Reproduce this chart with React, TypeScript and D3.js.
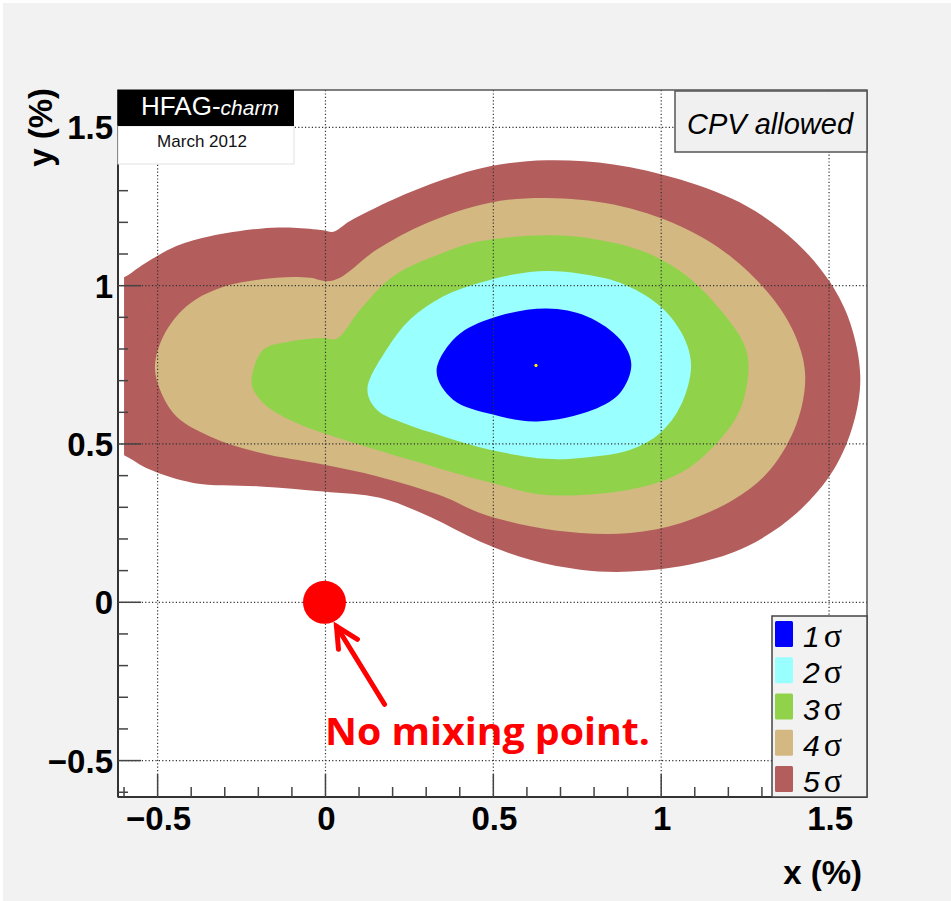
import * as d3 from 'd3';
import React, { useEffect, useRef } from 'react';

// contour outlines, in (x %, y %)
const sigma5: [number, number][] = [
  [-0.7, 1.0], [-0.603, 1.025], [-0.543, 1.067], [-0.444, 1.125], [-0.344, 1.156], [-0.195, 1.18],
  [-0.096, 1.183], [-0.007, 1.175], [0.023, 1.17], [0.073, 1.204], [0.202, 1.272], [0.351, 1.335],
  [0.49, 1.377], [0.659, 1.396], [0.858, 1.383], [1.057, 1.335], [1.255, 1.251], [1.404, 1.135],
  [1.504, 1.009], [1.563, 0.882], [1.593, 0.714], [1.573, 0.566], [1.514, 0.419], [1.404, 0.282],
  [1.255, 0.176], [1.106, 0.124], [0.908, 0.097], [0.759, 0.103], [0.61, 0.134], [0.46, 0.192],
  [0.311, 0.27], [0.162, 0.33], [-0.007, 0.35], [-0.195, 0.366], [-0.394, 0.377], [-0.523, 0.419],
  [-0.603, 0.466], [-0.7, 0.5],
];
const sigma4: [number, number][] = [
  [-0.508, 0.745], [-0.483, 0.84], [-0.414, 0.935], [-0.314, 0.993], [-0.145, 1.025], [-0.046, 1.025],
  [0.004, 1.014], [0.043, 1.025], [0.153, 1.114], [0.302, 1.198], [0.49, 1.262], [0.659, 1.277],
  [0.858, 1.256], [1.057, 1.188], [1.206, 1.093], [1.335, 0.956], [1.404, 0.83], [1.429, 0.714],
  [1.404, 0.566], [1.325, 0.419], [1.215, 0.324], [1.057, 0.25], [0.908, 0.219], [0.759, 0.219],
  [0.61, 0.24], [0.46, 0.282], [0.351, 0.334], [0.153, 0.398], [-0.007, 0.435], [-0.195, 0.472],
  [-0.344, 0.524], [-0.444, 0.587], [-0.493, 0.672],
];
const sigma3: [number, number][] = [
  [-0.22, 0.709], [-0.185, 0.798], [-0.106, 0.824], [-0.007, 0.835], [0.033, 0.832], [0.103, 0.924],
  [0.202, 1.03], [0.351, 1.104], [0.46, 1.14], [0.659, 1.159], [0.808, 1.146], [0.957, 1.104],
  [1.077, 1.03], [1.176, 0.924], [1.245, 0.819], [1.26, 0.745], [1.235, 0.608], [1.156, 0.492],
  [1.057, 0.408], [0.908, 0.356], [0.659, 0.339], [0.49, 0.378], [0.252, 0.45], [0.053, 0.514],
  [-0.086, 0.566], [-0.175, 0.619], [-0.215, 0.672],
];
const sigma2: [number, number][] = [
  [0.125, 0.672], [0.182, 0.798], [0.252, 0.893], [0.35, 0.966], [0.46, 1.009], [0.559, 1.035],
  [0.659, 1.046], [0.759, 1.038], [0.878, 1.009], [0.997, 0.935], [1.066, 0.84], [1.089, 0.745],
  [1.057, 0.619], [0.997, 0.535], [0.908, 0.482], [0.759, 0.456], [0.659, 0.453], [0.49, 0.482],
  [0.351, 0.524], [0.232, 0.566], [0.153, 0.608],
];
const sigma1: [number, number][] = [
  [0.331, 0.729], [0.391, 0.84], [0.499, 0.899], [0.659, 0.928], [0.779, 0.903], [0.878, 0.83],
  [0.911, 0.751], [0.878, 0.662], [0.797, 0.608], [0.63, 0.571], [0.499, 0.593], [0.38, 0.64],
];
const bestFit: [number, number] = [0.627, 0.748];
const noMixing: [number, number] = [0, 0];

const contours = [sigma5, sigma4, sigma3, sigma2, sigma1];
const contourColors = ['#b35e5c', '#d3b882', '#90d34a', '#99ffff', '#0000ff'];
const legendLabels = ['1', '2', '3', '4', '5'];
const legendColors = ['#0000ff', '#99ffff', '#90d34a', '#d3b882', '#b35e5c'];
const majorTicks = [-0.5, 0, 0.5, 1, 1.5];
const tickLabels = ['\u22120.5', '0', '0.5', '1', '1.5'];

function App() {
  const svgRef = useRef<SVGSVGElement>(null);

  useEffect(() => {
    const W = 951, H = 901;
    const left = 118, right = 867, top = 90, bottom = 797;
    const svg = d3.select(svgRef.current).attr('width', W).attr('height', H);
    svg.selectAll('*').remove();

    svg.append('rect').attr('width', W).attr('height', H).attr('fill', '#fff');
    svg.append('rect').attr('x', 3).attr('y', 3).attr('width', W - 3).attr('height', H - 3).attr('fill', '#f2f2f2');

    const x = d3.scaleLinear().domain([-0.618, 1.613]).range([left, right]);
    const y = d3.scaleLinear().domain([-0.615, 1.618]).range([bottom, top]);

    svg.append('rect').attr('x', left).attr('y', top)
      .attr('width', right - left).attr('height', bottom - top).attr('fill', '#fff');

    // histogram range clip
    svg.append('clipPath').attr('id', 'hist')
      .append('rect')
      .attr('x', x(-0.6)).attr('y', y(1.6))
      .attr('width', x(1.6) - x(-0.6)).attr('height', y(-0.6) - y(1.6));

    const line = d3.line<[number, number]>()
      .x(d => x(d[0]))
      .y(d => y(d[1]))
      .curve(d3.curveCatmullRomClosed.alpha(0.5));

    const g = svg.append('g').attr('clip-path', 'url(#hist)');
    contours.forEach((c, i) => {
      g.append('path').attr('d', line(c)).attr('fill', contourColors[i]);
    });
    g.append('circle').attr('cx', x(bestFit[0])).attr('cy', y(bestFit[1])).attr('r', 1.6).attr('fill', '#ffee00');

    // dotted grid on top
    const grid = svg.append('g').attr('stroke', '#333').attr('stroke-width', 1.2).attr('stroke-dasharray', '1.2 2.2');
    majorTicks.forEach(t => {
      grid.append('line').attr('x1', x(t)).attr('x2', x(t)).attr('y1', top).attr('y2', bottom);
      grid.append('line').attr('x1', left).attr('x2', right).attr('y1', y(t)).attr('y2', y(t));
    });

    // frame
    svg.append('rect').attr('x', left).attr('y', top)
      .attr('width', right - left).attr('height', bottom - top)
      .attr('fill', 'none').attr('stroke', '#555').attr('stroke-width', 1.5);
    svg.append('line').attr('x1', left).attr('x2', right).attr('y1', bottom).attr('y2', bottom).attr('stroke', '#333').attr('stroke-width', 2);
    svg.append('line').attr('x1', left).attr('x2', left).attr('y1', top).attr('y2', bottom).attr('stroke', '#333').attr('stroke-width', 2);

    // ticks
    const ticks = svg.append('g').attr('stroke', '#444').attr('stroke-width', 1.5);
    d3.range(-6, 17).forEach(k => {
      const v = k / 10;
      const major = k % 5 === 0;
      const len = major ? 23 : 10;
      ticks.append('line').attr('x1', x(v)).attr('x2', x(v)).attr('y1', bottom).attr('y2', bottom - len);
      ticks.append('line').attr('x1', left).attr('x2', left + len).attr('y1', y(v)).attr('y2', y(v));
    });

    const font = '"Liberation Sans", Arial, sans-serif';
    majorTicks.forEach((t, i) => {
      svg.append('text').attr('x', x(t) + 1).attr('y', 830)
        .attr('text-anchor', 'middle').attr('font-family', font).attr('font-weight', 'bold')
        .attr('font-size', 33).text(tickLabels[i]);
      svg.append('text').attr('x', 113).attr('y', y(t) + 12)
        .attr('text-anchor', 'end').attr('font-family', font).attr('font-weight', 'bold')
        .attr('font-size', 33).text(tickLabels[i]);
    });

    svg.append('text').attr('x', 862).attr('y', 884).attr('text-anchor', 'end')
      .attr('font-family', font).attr('font-weight', 'bold').attr('font-size', 33).text('x (%)');
    svg.append('text').attr('transform', 'translate(52,88) rotate(-90)').attr('text-anchor', 'end')
      .attr('font-family', font).attr('font-weight', 'bold').attr('font-size', 33).text('y (%)');

    // HFAG label
    svg.append('rect').attr('x', left).attr('y', 126).attr('width', 176).attr('height', 38)
      .attr('fill', '#fff').attr('stroke', '#e2e2e2');
    svg.append('rect').attr('x', left).attr('y', top).attr('width', 176).attr('height', 36).attr('fill', '#000');
    const hf = svg.append('text').attr('x', 210).attr('y', 115).attr('text-anchor', 'middle')
      .attr('font-family', font).attr('fill', '#fff');
    hf.append('tspan').attr('font-size', 26).text('HFAG-');
    hf.append('tspan').attr('font-size', 21).attr('font-style', 'italic').text('charm');
    svg.append('text').attr('x', 202).attr('y', 147).attr('text-anchor', 'middle')
      .attr('font-family', font).attr('font-size', 17).attr('fill', '#111').text('March 2012');

    // CPV box
    svg.append('rect').attr('x', 675).attr('y', 91).attr('width', 192).attr('height', 61)
      .attr('fill', '#f0f0f0').attr('stroke', '#555').attr('stroke-width', 1.5);
    svg.append('text').attr('x', 770).attr('y', 134).attr('text-anchor', 'middle')
      .attr('font-family', font).attr('font-style', 'italic').attr('font-size', 29).text('CPV allowed');

    // legend
    svg.append('rect').attr('x', 772).attr('y', 616).attr('width', 95).attr('height', 181)
      .attr('fill', '#f2f2f2').attr('stroke', '#444').attr('stroke-width', 1.5);
    legendLabels.forEach((lab, i) => {
      const ty = 621 + i * 36.25;
      svg.append('rect').attr('x', 775).attr('y', ty).attr('width', 18).attr('height', 26)
        .attr('rx', 1.5).attr('fill', legendColors[i]);
      const t = svg.append('text').attr('x', 803).attr('y', ty + 26);
      t.append('tspan').attr('font-family', font).attr('font-style', 'italic').attr('font-size', 30).text(lab);
      t.append('tspan').attr('dx', 4).attr('font-family', '"Liberation Serif", serif').attr('font-size', 34).text('\u03c3');
    });

    // no mixing point
    svg.append('circle').attr('cx', x(noMixing[0]) - 1).attr('cy', y(noMixing[1])).attr('r', 21.5).attr('fill', '#ff0000');
    const arrow = svg.append('g').attr('stroke', '#ff0000').attr('stroke-width', 5)
      .attr('stroke-linecap', 'round').attr('fill', 'none');
    const tipX = x(noMixing[0]) + 11, tipY = y(noMixing[1]) + 24;
    arrow.append('line').attr('x1', tipX + 48).attr('y1', tipY + 78).attr('x2', tipX).attr('y2', tipY);
    arrow.append('polyline').attr('points', `${tipX + 2},${tipY + 23} ${tipX},${tipY} ${tipX + 21},${tipY + 13}`);
    svg.append('text').attr('x', 325).attr('y', 745)
      .attr('font-family', '"Open Sans", Lato, sans-serif').attr('font-weight', 'bold')
      .attr('font-size', 38).attr('fill', '#ff0000')
      .attr('textLength', 325).attr('lengthAdjust', 'spacingAndGlyphs')
      .text('No mixing point.');
  }, []);

  return <svg ref={svgRef} style={{ position: 'absolute', left: 0, top: 0 }} />;
}

export default App;
